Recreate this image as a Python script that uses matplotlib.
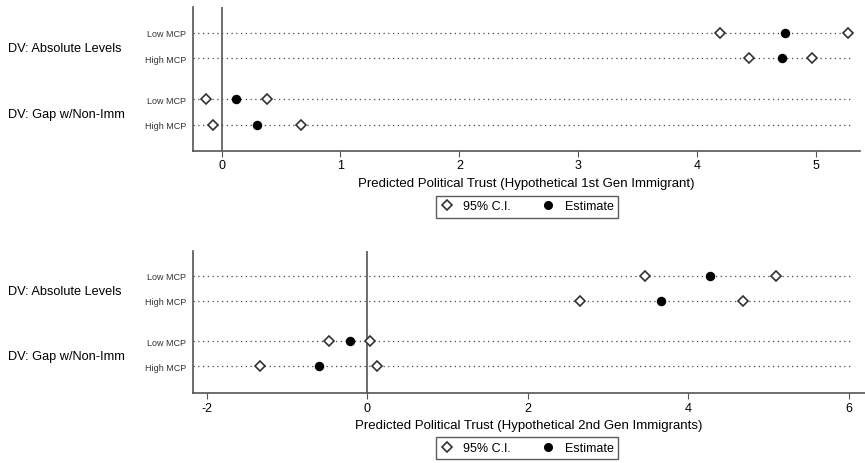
import matplotlib.pyplot as plt
from matplotlib.lines import Line2D
from matplotlib.transforms import blended_transform_factory

plt.rcParams['font.family'] = ['Liberation Sans', 'DejaVu Sans']

row_labels = ['Low MCP', 'High MCP', 'Low MCP', 'High MCP']
group_labels = ['DV: Absolute Levels', 'DV: Gap w/Non-Imm']

# 1st generation: lower CI, estimate, upper CI per row
gen1_lower = [4.19, 4.44, -0.13, -0.07]
gen1_est = [4.74, 4.71, 0.12, 0.30]
gen1_upper = [5.27, 4.97, 0.38, 0.67]

# 2nd generation
gen2_lower = [3.46, 2.65, -0.48, -1.33]
gen2_est = [4.27, 3.66, -0.22, -0.60]
gen2_upper = [5.09, 4.68, 0.03, 0.12]

rows = [0, 1, 2.6, 3.6]
grey = '#555555'
W, H = 865, 464


def draw_panel(fig, rect, lower, est, upper, xlim, xticks, xlabel, ylim, dot_end):
    ax = fig.add_axes(rect)
    ax.set_xlim(*xlim)
    ax.set_ylim(*ylim)
    for s in ['top', 'right']:
        ax.spines[s].set_visible(False)
    for s in ['left', 'bottom']:
        ax.spines[s].set_color(grey)
        ax.spines[s].set_linewidth(1.2)

    for y in rows:
        ax.plot([xlim[0], dot_end], [y, y], color='#444444', lw=0.9,
                ls=(0, (1, 2.8)), zorder=1)
    ax.axvline(0, color=grey, lw=1.2, zorder=1)

    ax.plot(lower, rows, 'D', ms=5.2, mfc='white', mec='#333333', mew=1.2,
            ls='none', zorder=3)
    ax.plot(upper, rows, 'D', ms=5.2, mfc='white', mec='#333333', mew=1.2,
            ls='none', zorder=3)
    ax.plot(est, rows, 'o', ms=5.8, color='black', ls='none', zorder=3)

    ax.set_yticks(rows)
    ax.set_yticklabels(row_labels, fontsize=6.5, color='#333333')
    ax.tick_params(axis='y', length=0, pad=5)
    ax.set_xticks(xticks)
    ax.set_xticklabels([str(t) for t in xticks], fontsize=9)
    ax.tick_params(axis='x', length=4, color=grey, pad=2)
    ax.set_xlabel(xlabel, fontsize=9.5, labelpad=4)

    # group labels sit at the left edge of the figure
    tr = blended_transform_factory(fig.transFigure, ax.transData)
    ax.text(8 / W, (rows[0] + rows[1]) / 2 + 0.1, group_labels[0], transform=tr,
            ha='left', va='center', fontsize=9.2)
    ax.text(8 / W, (rows[2] + rows[3]) / 2 + 0.1, group_labels[1], transform=tr,
            ha='left', va='center', fontsize=9.2)
    return ax


fig = plt.figure(figsize=(W / 100, H / 100), dpi=100)

draw_panel(fig, [193 / W, 1 - 152 / H, (860 - 193) / W, 144 / H],
           gen1_lower, gen1_est, gen1_upper,
           (-0.24, 5.37), [0, 1, 2, 3, 4, 5],
           'Predicted Political Trust (Hypothetical 1st Gen Immigrant)',
           (4.63, -1.0), 5.31)

draw_panel(fig, [193 / W, 1 - 394.3 / H, (865 - 193) / W, 142.6 / H],
           gen2_lower, gen2_est, gen2_upper,
           (-2.17, 6.2), [-2, 0, 2, 4, 6],
           'Predicted Political Trust (Hypothetical 2nd Gen Immigrants)',
           (4.68, -1.0), 6.05)

handles = [
    Line2D([], [], marker='D', ms=5, mfc='white', mec='#333333', mew=1.2, ls='none'),
    Line2D([], [], marker='o', ms=5.5, color='black', ls='none'),
]
for yc in [207.5 / H, 449 / H]:
    leg = fig.legend(handles, ['95% C.I.', 'Estimate'], ncol=2,
                     loc='center', bbox_to_anchor=(527 / W, 1 - yc),
                     fontsize=9, frameon=True, fancybox=False,
                     handletextpad=0.8, columnspacing=2.5, borderpad=0.4,
                     handlelength=1.0)
    leg.get_frame().set_edgecolor('#333333')
    leg.get_frame().set_linewidth(1.0)

fig.savefig('out.png', dpi=100)
